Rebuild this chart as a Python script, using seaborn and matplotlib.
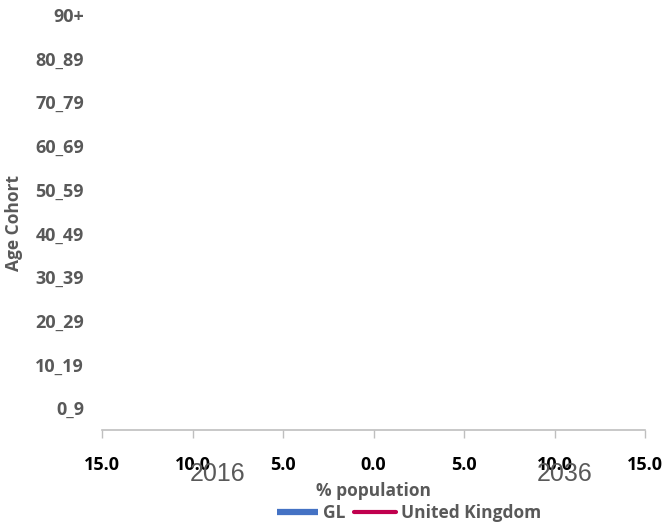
import numpy as np
import pandas as pd
import matplotlib
matplotlib.use("Agg")
import matplotlib.pyplot as plt
from matplotlib.lines import Line2D
import seaborn as sns

# age cohorts, bottom to top
cohorts = ['0_9', '10_19', '20_29', '30_39', '40_49', '50_59', '60_69', '70_79', '80_89', '90+']
# the source chart has no visible data: bars are empty, lines missing
gl_2016 = [0.0, 0.0, 0.0, 0.0, 0.0, 0.0, 0.0, 0.0, 0.0, 0.0]
gl_2036 = [0.0, 0.0, 0.0, 0.0, 0.0, 0.0, 0.0, 0.0, 0.0, 0.0]
uk_2016 = [np.nan] * 10
uk_2036 = [np.nan] * 10
xticks = [-15, -10, -5, 0, 5, 10, 15]

sns.set_theme(style="white")
plt.rcParams['font.family'] = ['Open Sans', 'DejaVu Sans']

grey = '#595959'
blue = '#4472C4'
red = '#C0004E'

df = pd.DataFrame({'cohort': cohorts, 'left': [-v for v in gl_2016], 'right': gl_2036,
                   'uk_left': [-v for v in uk_2016], 'uk_right': uk_2036})

fig = plt.figure(figsize=(6.64, 5.26), dpi=100)
ax = fig.add_axes([102 / 664, 96 / 526, 543 / 664, 437 / 526])

order = cohorts[::-1]
sns.barplot(data=df, x='left', y='cohort', order=order, orient='h', color=blue, linewidth=0, ax=ax)
sns.barplot(data=df, x='right', y='cohort', order=order, orient='h', color=blue, linewidth=0, ax=ax)
pos = [order.index(c) for c in cohorts]
ax.plot(df['uk_left'], pos, color=red, lw=2.5)
ax.plot(df['uk_right'], pos, color=red, lw=2.5)

ax.set_xlim(-15, 15)
ax.set_ylim(9.5, -0.5)
ax.set_xticks(xticks)
ax.set_xticklabels([f"{abs(t):.1f}" for t in xticks], fontsize=13, fontweight='bold', color='black')
ax.set_yticks(range(len(order)))
ax.set_yticklabels(order, fontsize=13, fontweight='bold', color=grey)
ax.tick_params(axis='x', length=6, width=1, color='#BFBFBF', pad=13, direction='out', bottom=True)
ax.tick_params(axis='y', length=0, pad=13)
for s in ['top', 'right', 'left']:
    ax.spines[s].set_visible(False)
ax.spines['bottom'].set_color('#BFBFBF')
ax.spines['bottom'].set_linewidth(1.2)
ax.set_xlabel('')
ax.set_ylabel('')

fig.text(14 / 664, 1 - 223 / 526, 'Age Cohort', rotation=90, ha='center', va='center',
         fontsize=12.5, fontweight='bold', color=grey)
fig.text(218 / 664, 1 - 474 / 526, '2016', ha='center', va='center', fontsize=18, color=grey,
         family='Liberation Sans')
fig.text(565 / 664, 1 - 474 / 526, '2036', ha='center', va='center', fontsize=18, color=grey,
         family='Liberation Sans')
fig.text(374 / 664, 1 - 491 / 526, '% population', ha='center', va='center',
         fontsize=12.5, fontweight='bold', color=grey)

handles = [Line2D([0], [0], color=blue, lw=4.5, solid_capstyle='butt'),
           Line2D([0], [0], color=red, lw=3, solid_capstyle='round')]
leg = fig.legend(handles, ['GL', 'United Kingdom'], loc='center', bbox_to_anchor=(409 / 664, 1 - 513 / 526),
                 ncol=2, frameon=False, handlelength=2.4, handletextpad=0.3, columnspacing=0.5,
                 borderpad=0, borderaxespad=0, prop={'size': 12.5, 'weight': 'bold'})
for t in leg.get_texts():
    t.set_color(grey)

fig.savefig('out.png', dpi=100)
